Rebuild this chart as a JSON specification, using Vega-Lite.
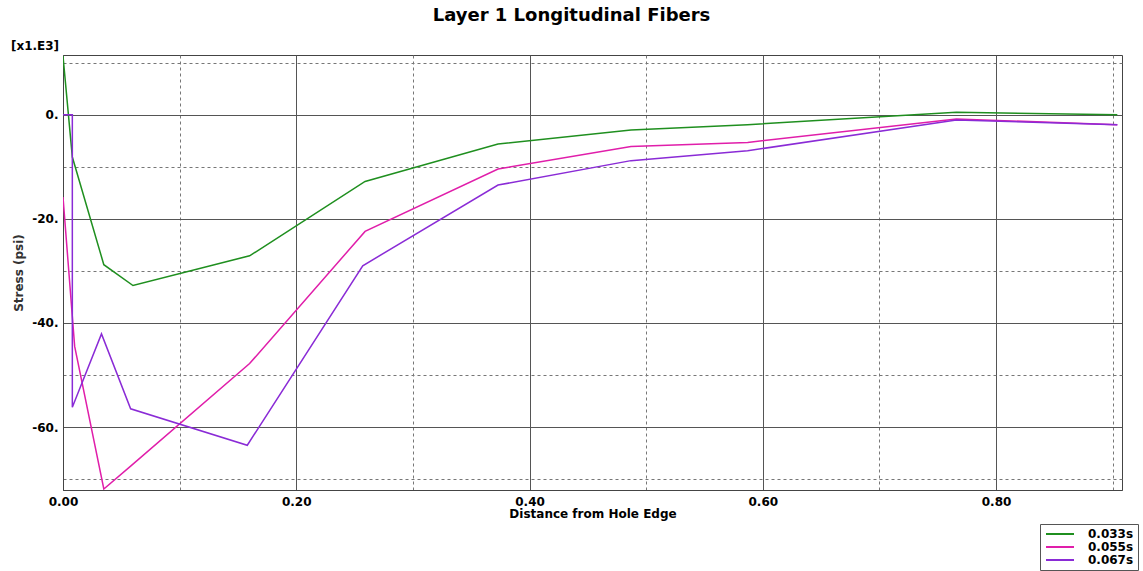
{
  "$schema": "https://vega.github.io/schema/vega-lite/v6.json",
  "width": 1059,
  "height": 435,
  "autosize": {"type": "none"},
  "padding": {"left": 63, "top": 55, "right": 21, "bottom": 81},
  "background": "white",
  "title": {
    "text": "Layer 1 Longitudinal Fibers",
    "font": "DejaVu Sans",
    "fontSize": 18,
    "fontWeight": "bold",
    "color": "black",
    "anchor": "middle",
    "dx": -21,
    "offset": 15
  },
  "config": {
    "view": {"stroke": "#444", "strokeWidth": 1},
    "axis": {
      "labelFont": "DejaVu Sans",
      "labelFontSize": 12,
      "labelFontWeight": "bold",
      "labelColor": "black",
      "titleFont": "DejaVu Sans",
      "titleFontSize": 12,
      "titleFontWeight": "bold"
    }
  },
  "layer": [
    {
      "data": {
        "values": [
          {"series": "0.033s", "i": 0, "x": 0.0, "y": 11.3},
          {"series": "0.033s", "i": 1, "x": 0.008, "y": -8.1},
          {"series": "0.033s", "i": 2, "x": 0.035, "y": -28.8},
          {"series": "0.033s", "i": 3, "x": 0.060, "y": -32.8},
          {"series": "0.033s", "i": 4, "x": 0.160, "y": -27.1},
          {"series": "0.033s", "i": 5, "x": 0.259, "y": -12.8},
          {"series": "0.033s", "i": 6, "x": 0.373, "y": -5.6},
          {"series": "0.033s", "i": 7, "x": 0.487, "y": -2.9},
          {"series": "0.033s", "i": 8, "x": 0.587, "y": -1.9},
          {"series": "0.033s", "i": 9, "x": 0.766, "y": 0.5},
          {"series": "0.033s", "i": 10, "x": 0.904, "y": 0.0},
          {"series": "0.055s", "i": 0, "x": 0.0, "y": -15.8},
          {"series": "0.055s", "i": 1, "x": 0.010, "y": -44.5},
          {"series": "0.055s", "i": 2, "x": 0.035, "y": -71.9},
          {"series": "0.055s", "i": 3, "x": 0.058, "y": -67.5},
          {"series": "0.055s", "i": 4, "x": 0.160, "y": -47.8},
          {"series": "0.055s", "i": 5, "x": 0.259, "y": -22.4},
          {"series": "0.055s", "i": 6, "x": 0.373, "y": -10.4},
          {"series": "0.055s", "i": 7, "x": 0.487, "y": -6.1},
          {"series": "0.055s", "i": 8, "x": 0.587, "y": -5.3},
          {"series": "0.055s", "i": 9, "x": 0.766, "y": -0.8},
          {"series": "0.055s", "i": 10, "x": 0.904, "y": -1.9},
          {"series": "0.067s", "i": 0, "x": 0.0, "y": 0.0},
          {"series": "0.067s", "i": 1, "x": 0.008, "y": 0.0},
          {"series": "0.067s", "i": 2, "x": 0.008, "y": -56.2},
          {"series": "0.067s", "i": 3, "x": 0.033, "y": -42.1},
          {"series": "0.067s", "i": 4, "x": 0.058, "y": -56.5},
          {"series": "0.067s", "i": 5, "x": 0.158, "y": -63.5},
          {"series": "0.067s", "i": 6, "x": 0.257, "y": -29.0},
          {"series": "0.067s", "i": 7, "x": 0.373, "y": -13.5},
          {"series": "0.067s", "i": 8, "x": 0.487, "y": -8.8},
          {"series": "0.067s", "i": 9, "x": 0.587, "y": -6.9},
          {"series": "0.067s", "i": 10, "x": 0.766, "y": -1.0},
          {"series": "0.067s", "i": 11, "x": 0.904, "y": -1.9}
        ]
      },
      "mark": {"type": "line", "strokeWidth": 1.5, "clip": true},
      "encoding": {
        "x": {
          "field": "x", "type": "quantitative",
          "scale": {"domain": [0, 0.908], "nice": false, "zero": false},
          "axis": {
            "values": [0, 0.1, 0.2, 0.3, 0.4, 0.5, 0.6, 0.7, 0.8, 0.9],
            "labelExpr": "round(datum.value * 10) % 2 == 0 ? format(datum.value, '.2f') : ''",
            "labelFlush": false,
            "labelOverlap": false,
            "title": "Distance from Hole Edge",
            "titleColor": "black",
            "titlePadding": 1,
            "labelPadding": 6,
            "ticks": false,
            "domainColor": "#444",
            "grid": true,
            "gridWidth": 1,
            "gridColor": {"condition": {"test": "round(datum.value * 10) % 2 == 0", "value": "#555"}, "value": "#777"},
            "gridDash": {"condition": {"test": "round(datum.value * 10) % 2 == 0", "value": []}, "value": [3, 3]}
          }
        },
        "y": {
          "field": "y", "type": "quantitative",
          "scale": {"domain": [-72.1, 11.5], "nice": false, "zero": false},
          "axis": {
            "values": [10, 0, -10, -20, -30, -40, -50, -60, -70],
            "labelExpr": "round(datum.value / 10) % 2 == 0 ? datum.value + '.' : ''",
            "labelFlush": false,
            "labelOverlap": false,
            "title": "Stress (psi)",
            "titleColor": "#333333",
            "titlePadding": 6,
            "labelPadding": 5,
            "ticks": false,
            "domainColor": "#444",
            "grid": true,
            "gridWidth": 1,
            "gridColor": {"condition": {"test": "round(datum.value / 10) % 2 == 0", "value": "#555"}, "value": "#777"},
            "gridDash": {"condition": {"test": "round(datum.value / 10) % 2 == 0", "value": []}, "value": [3, 3]}
          }
        },
        "color": {
          "field": "series", "type": "nominal",
          "scale": {"domain": ["0.033s", "0.055s", "0.067s"], "range": ["#1f8f1f", "#e01eaa", "#8a2bd6"]},
          "legend": {
            "title": null,
            "orient": "none",
            "legendX": 977,
            "legendY": 469,
            "strokeColor": "#555",
            "fillColor": "white",
            "padding": 4,
            "symbolType": "M-2.8,0H2.8",
            "symbolSize": 100,
            "symbolStrokeWidth": 2,
            "symbolOffset": 10,
            "labelOffset": 22,
            "labelFont": "DejaVu Sans",
            "labelFontSize": 12,
            "labelFontWeight": "bold",
            "labelColor": "black",
            "rowPadding": 1
          }
        },
        "order": {"field": "i", "type": "quantitative"}
      }
    },
    {
      "data": {"values": [{"label": "[x1.E3]"}]},
      "mark": {"type": "text", "font": "DejaVu Sans", "fontSize": 12, "fontWeight": "bold", "color": "black", "dx": -28, "dy": -9, "align": "center", "baseline": "middle", "clip": false},
      "encoding": {
        "text": {"field": "label"},
        "x": {"datum": 0, "type": "quantitative"},
        "y": {"datum": 11.5, "type": "quantitative"}
      }
    }
  ]
}
